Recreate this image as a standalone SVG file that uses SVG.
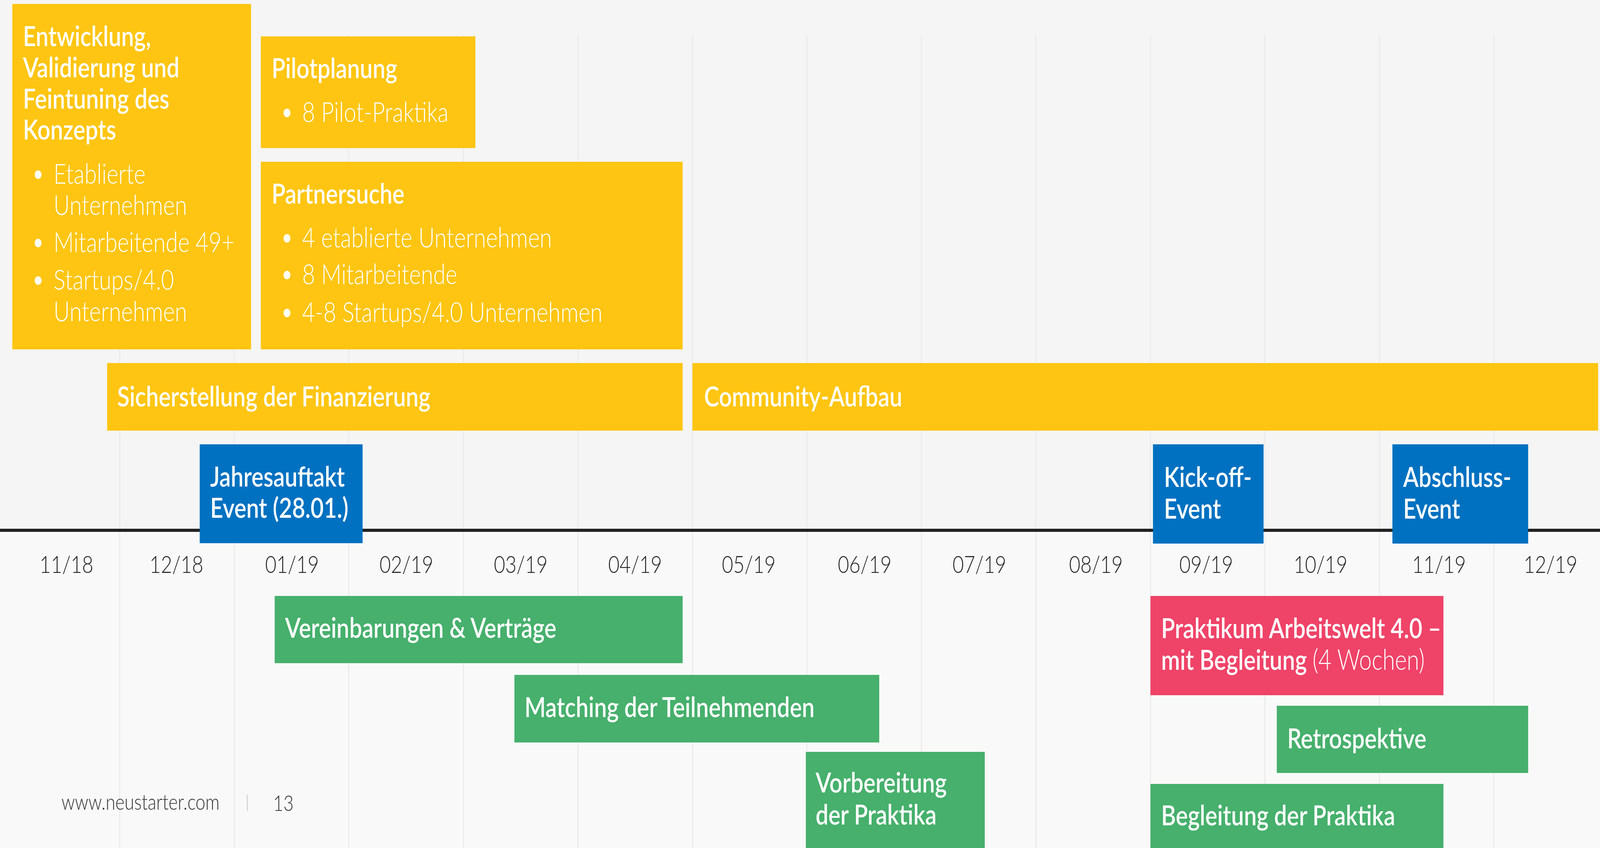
<svg xmlns="http://www.w3.org/2000/svg" width="5079" height="2170" viewBox="0 0 5079 2170" preserveAspectRatio="none">
<style>
svg{width:100vw;height:100vh}
.t{font-family:Lato,"Open Sans","Liberation Sans",sans-serif;fill:#fff;font-size:72px;font-weight:600}
.b{font-family:Lato,"Open Sans","Liberation Sans",sans-serif;fill:#fff;font-size:71px;font-weight:300}
.m{font-family:Lato,"Open Sans","Liberation Sans",sans-serif;fill:#222;font-size:62px;font-weight:300;text-anchor:middle}
.f{font-family:Lato,"Open Sans","Liberation Sans",sans-serif;fill:#333;font-weight:300}
.y{fill:#FFC512}.bl{fill:#0071C1}.g{fill:#46B06C}.p{fill:#EF4368}
.d{fill:#fff}
.grid line{stroke:#e9e9e9;stroke-width:3}
</style>
<rect x="0" y="0" width="5079" height="1357" fill="#f5f5f5"/>
<rect x="0" y="1357" width="5079" height="813" fill="#f9f9f9"/>
<g class="grid">
<line x1="380" y1="90" x2="380" y2="2170"/><line x1="744" y1="90" x2="744" y2="2170"/><line x1="1107" y1="90" x2="1107" y2="2170"/><line x1="1471" y1="90" x2="1471" y2="2170"/><line x1="1835" y1="90" x2="1835" y2="2170"/><line x1="2198" y1="90" x2="2198" y2="2170"/><line x1="2561" y1="90" x2="2561" y2="2170"/><line x1="2925" y1="90" x2="2925" y2="2170"/><line x1="3288" y1="90" x2="3288" y2="2170"/><line x1="3652" y1="90" x2="3652" y2="2170"/><line x1="4015" y1="90" x2="4015" y2="2170"/><line x1="4379" y1="90" x2="4379" y2="2170"/><line x1="4742" y1="90" x2="4742" y2="2170"/>
</g>
<g id="connectors">
<rect x="0" y="1353" width="5079" height="8" fill="#222"/>
</g>
<g id="months">
<text class="m" x="211" y="1466">11/18</text>
<text class="m" x="560" y="1466">12/18</text>
<text class="m" x="927" y="1466">01/19</text>
<text class="m" x="1290" y="1466">02/19</text>
<text class="m" x="1653" y="1466">03/19</text>
<text class="m" x="2016" y="1466">04/19</text>
<text class="m" x="2377" y="1466">05/19</text>
<text class="m" x="2745" y="1466">06/19</text>
<text class="m" x="3109" y="1466">07/19</text>
<text class="m" x="3479" y="1466">08/19</text>
<text class="m" x="3829" y="1466">09/19</text>
<text class="m" x="4192" y="1466">10/19</text>
<text class="m" x="4568" y="1466">11/19</text>
<text class="m" x="4922" y="1466">12/19</text>
</g>
<g id="entwicklung">
<rect class="y" x="39" y="10" width="758" height="884"/>
<text class="t" x="73" y="118">Entwicklung,</text>
<text class="t" x="73" y="198">Validierung und</text>
<text class="t" x="73" y="278">Feintuning des</text>
<text class="t" x="73" y="357">Konzepts</text>
<circle class="d" cx="121" cy="447" r="11"/><text class="b" x="170" y="470">Etablierte</text>
<text class="b" x="170" y="550">Unternehmen</text>
<circle class="d" cx="121" cy="622" r="11"/><text class="b" x="170" y="645">Mitarbeitende 49+</text>
<circle class="d" cx="121" cy="718" r="11"/><text class="b" x="170" y="741">Startups/4.0</text>
<text class="b" x="170" y="822">Unternehmen</text>
</g>
<g id="pilotplanung">
<rect class="y" x="828" y="93" width="681" height="286"/>
<text class="t" x="862" y="200">Pilotplanung</text>
<circle class="d" cx="911" cy="289" r="11"/><text class="b" x="959" y="312">8 Pilot-Praktika</text>
</g>
<g id="partnersuche">
<rect class="y" x="828" y="414" width="1339" height="480"/>
<text class="t" x="862" y="521">Partnersuche</text>
<circle class="d" cx="911" cy="610" r="11"/><text class="b" x="959" y="633">4 etablierte Unternehmen</text>
<circle class="d" cx="911" cy="704" r="11"/><text class="b" x="959" y="727">8 Mitarbeitende</text>
<circle class="d" cx="911" cy="801" r="11"/><text class="b" x="959" y="824">4-8 Startups/4.0 Unternehmen</text>
</g>
<g id="finanzierung">
<rect class="y" x="340" y="929" width="1827" height="173"/>
<text class="t" x="372" y="1040">Sicherstellung der Finanzierung</text>
</g>
<g id="community">
<rect class="y" x="2198" y="929" width="2875" height="173"/>
<text class="t" x="2235" y="1040">Community-Aufbau</text>
</g>
<g id="jahresauftakt">
<rect class="bl" x="634" y="1137" width="517" height="253"/>
<text class="t" x="667" y="1245">Jahresauftakt</text>
<text class="t" x="667" y="1325">Event (28.01.)</text>
</g>
<g id="kickoff">
<rect class="bl" x="3660" y="1137" width="351" height="254"/>
<text class="t" x="3695" y="1246">Kick-off-</text>
<text class="t" x="3695" y="1327">Event</text>
</g>
<g id="abschluss">
<rect class="bl" x="4420" y="1137" width="431" height="254"/>
<text class="t" x="4454" y="1246">Abschluss-</text>
<text class="t" x="4454" y="1327">Event</text>
</g>
<g id="vereinbarungen">
<rect class="g" x="872" y="1525" width="1295" height="172"/>
<text class="t" x="905" y="1632">Vereinbarungen &amp; Verträge</text>
</g>
<g id="matching">
<rect class="g" x="1633" y="1727" width="1158" height="173"/>
<text class="t" x="1665" y="1835">Matching der Teilnehmenden</text>
</g>
<g id="vorbereitung">
<rect class="g" x="2558" y="1924" width="568" height="246"/>
<text class="t" x="2589" y="2028">Vorbereitung</text>
<text class="t" x="2589" y="2110">der Praktika</text>
</g>
<g id="praktikum">
<rect class="p" x="3652" y="1525" width="930" height="254"/>
<text class="t" x="3686" y="1633">Praktikum Arbeitswelt 4.0 –</text>
<text class="t" x="3686" y="1714">mit Begleitung <tspan font-weight="300">(4 Wochen)</tspan></text>
</g>
<g id="retrospektive">
<rect class="g" x="4053" y="1806" width="798" height="172"/>
<text class="t" x="4086" y="1915">Retrospektive</text>
</g>
<g id="begleitung">
<rect class="g" x="3652" y="2006" width="930" height="164"/>
<text class="t" x="3686" y="2112">Begleitung der Praktika</text>
</g>
<g id="footer">
<text class="f" x="195" y="2072" font-size="56">www.neustarter.com</text>
<line x1="785" y1="2033" x2="785" y2="2075" stroke="#d0d0d0" stroke-width="3"/>
<text class="f" x="867" y="2075" font-size="56" font-weight="400">13</text>
</g>
</svg>
